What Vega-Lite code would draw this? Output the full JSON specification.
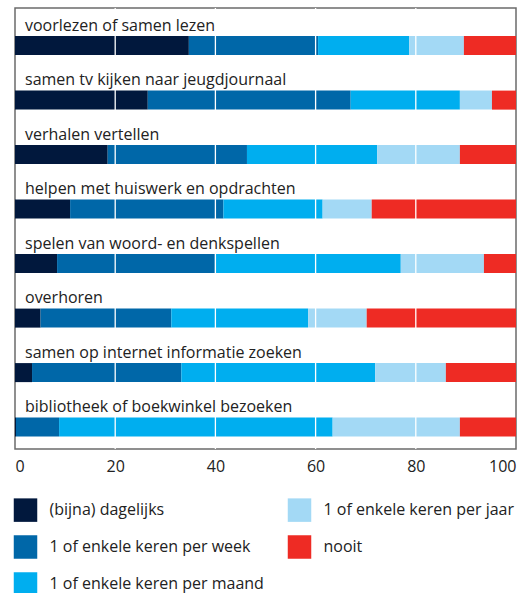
{
  "$schema": "https://vega.github.io/schema/vega-lite/v6.json",
  "width": 501,
  "height": 441,
  "padding": {"left": 13, "top": 7, "right": 5, "bottom": 5},
  "config": {
    "font": "Open Sans",
    "view": {"stroke": "#6b6b6b", "strokeWidth": 1.5},
    "text": {"color": "#222222"}
  },
  "datasets": {
    "survey": [
      {"activity": "voorlezen of samen lezen", "freq": "(bijna) dagelijks", "value": 34.7},
      {"activity": "voorlezen of samen lezen", "freq": "1 of enkele keren per week", "value": 25.8},
      {"activity": "voorlezen of samen lezen", "freq": "1 of enkele keren per maand", "value": 18.2},
      {"activity": "voorlezen of samen lezen", "freq": "1 of enkele keren per jaar", "value": 10.9},
      {"activity": "voorlezen of samen lezen", "freq": "nooit", "value": 10.4},
      {"activity": "samen tv kijken naar jeugdjournaal", "freq": "(bijna) dagelijks", "value": 26.5},
      {"activity": "samen tv kijken naar jeugdjournaal", "freq": "1 of enkele keren per week", "value": 40.5},
      {"activity": "samen tv kijken naar jeugdjournaal", "freq": "1 of enkele keren per maand", "value": 21.8},
      {"activity": "samen tv kijken naar jeugdjournaal", "freq": "1 of enkele keren per jaar", "value": 6.4},
      {"activity": "samen tv kijken naar jeugdjournaal", "freq": "nooit", "value": 4.8},
      {"activity": "verhalen vertellen", "freq": "(bijna) dagelijks", "value": 18.5},
      {"activity": "verhalen vertellen", "freq": "1 of enkele keren per week", "value": 27.8},
      {"activity": "verhalen vertellen", "freq": "1 of enkele keren per maand", "value": 26.0},
      {"activity": "verhalen vertellen", "freq": "1 of enkele keren per jaar", "value": 16.5},
      {"activity": "verhalen vertellen", "freq": "nooit", "value": 11.2},
      {"activity": "helpen met huiswerk en opdrachten", "freq": "(bijna) dagelijks", "value": 11.0},
      {"activity": "helpen met huiswerk en opdrachten", "freq": "1 of enkele keren per week", "value": 30.6},
      {"activity": "helpen met huiswerk en opdrachten", "freq": "1 of enkele keren per maand", "value": 19.8},
      {"activity": "helpen met huiswerk en opdrachten", "freq": "1 of enkele keren per jaar", "value": 9.8},
      {"activity": "helpen met huiswerk en opdrachten", "freq": "nooit", "value": 28.8},
      {"activity": "spelen van woord- en denkspellen", "freq": "(bijna) dagelijks", "value": 8.4},
      {"activity": "spelen van woord- en denkspellen", "freq": "1 of enkele keren per week", "value": 31.5},
      {"activity": "spelen van woord- en denkspellen", "freq": "1 of enkele keren per maand", "value": 37.1},
      {"activity": "spelen van woord- en denkspellen", "freq": "1 of enkele keren per jaar", "value": 16.6},
      {"activity": "spelen van woord- en denkspellen", "freq": "nooit", "value": 6.4},
      {"activity": "overhoren", "freq": "(bijna) dagelijks", "value": 5.1},
      {"activity": "overhoren", "freq": "1 of enkele keren per week", "value": 26.1},
      {"activity": "overhoren", "freq": "1 of enkele keren per maand", "value": 27.3},
      {"activity": "overhoren", "freq": "1 of enkele keren per jaar", "value": 11.7},
      {"activity": "overhoren", "freq": "nooit", "value": 29.8},
      {"activity": "samen op internet informatie zoeken", "freq": "(bijna) dagelijks", "value": 3.4},
      {"activity": "samen op internet informatie zoeken", "freq": "1 of enkele keren per week", "value": 29.8},
      {"activity": "samen op internet informatie zoeken", "freq": "1 of enkele keren per maand", "value": 38.7},
      {"activity": "samen op internet informatie zoeken", "freq": "1 of enkele keren per jaar", "value": 14.1},
      {"activity": "samen op internet informatie zoeken", "freq": "nooit", "value": 14.0},
      {"activity": "bibliotheek of boekwinkel bezoeken", "freq": "(bijna) dagelijks", "value": 0.2},
      {"activity": "bibliotheek of boekwinkel bezoeken", "freq": "1 of enkele keren per week", "value": 8.6},
      {"activity": "bibliotheek of boekwinkel bezoeken", "freq": "1 of enkele keren per maand", "value": 54.6},
      {"activity": "bibliotheek of boekwinkel bezoeken", "freq": "1 of enkele keren per jaar", "value": 25.4},
      {"activity": "bibliotheek of boekwinkel bezoeken", "freq": "nooit", "value": 11.2}
    ],
    "gridlines": [{"tick": 20}, {"tick": 40}, {"tick": 60}, {"tick": 80}]
  },
  "layer": [
    {
      "data": {"name": "survey"},
      "transform": [
        {"calculate": "indexof(['(bijna) dagelijks', '1 of enkele keren per week', '1 of enkele keren per maand', '1 of enkele keren per jaar', 'nooit'], datum.freq)", "as": "stackOrder"}
      ],
      "mark": {"type": "bar", "strokeWidth": 0},
      "encoding": {
        "y": {
          "field": "activity",
          "type": "nominal",
          "sort": null,
          "axis": null,
          "scale": {"paddingInner": 0.651, "paddingOuter": 0.3715, "align": 0.694}
        },
        "x": {
          "field": "value",
          "type": "quantitative",
          "stack": "zero",
          "scale": {"domain": [0, 100], "nice": false},
          "axis": {
            "title": null,
            "values": [0, 20, 40, 60, 80, 100],
            "labelFlush": true,
            "labelFontSize": 16,
            "labelColor": "#222222",
            "labelPadding": 9,
            "domain": false,
            "ticks": false,
            "grid": false
          }
        },
        "order": {"field": "stackOrder", "type": "quantitative", "sort": "ascending"},
        "color": {
          "field": "freq",
          "type": "nominal",
          "sort": ["(bijna) dagelijks", "1 of enkele keren per week", "1 of enkele keren per maand", "1 of enkele keren per jaar", "nooit"],
          "scale": {
            "domain": ["(bijna) dagelijks", "1 of enkele keren per week", "1 of enkele keren per maand", "1 of enkele keren per jaar", "nooit"],
            "range": ["#01183d", "#0067a8", "#00aeef", "#a3d9f5", "#ee2b24"]
          },
          "legend": {
            "title": null,
            "orient": "none",
            "legendX": -1.5,
            "legendY": 490,
            "columns": 2,
            "values": ["(bijna) dagelijks", "1 of enkele keren per week", "1 of enkele keren per maand", "1 of enkele keren per jaar", "nooit"],
            "symbolType": "square",
            "symbolSize": 552,
            "symbolStrokeWidth": 0,
            "symbolOpacity": 1,
            "labelFontSize": 16,
            "labelColor": "#222222",
            "labelOffset": 12,
            "labelLimit": 400,
            "rowPadding": 13,
            "columnPadding": 23
          }
        }
      }
    },
    {
      "data": {"name": "gridlines"},
      "mark": {"type": "rule", "color": "#ffffff", "strokeWidth": 1.3},
      "encoding": {
        "x": {"field": "tick", "type": "quantitative"}
      }
    },
    {
      "data": {"name": "survey"},
      "transform": [{"filter": "datum.freq === 'nooit'"}],
      "mark": {"type": "text", "align": "left", "baseline": "alphabetic", "dx": 10, "dy": -15, "fontSize": 16, "color": "#222222"},
      "encoding": {
        "y": {"field": "activity", "type": "nominal", "sort": null},
        "x": {"datum": 0},
        "text": {"field": "activity"}
      }
    }
  ]
}
